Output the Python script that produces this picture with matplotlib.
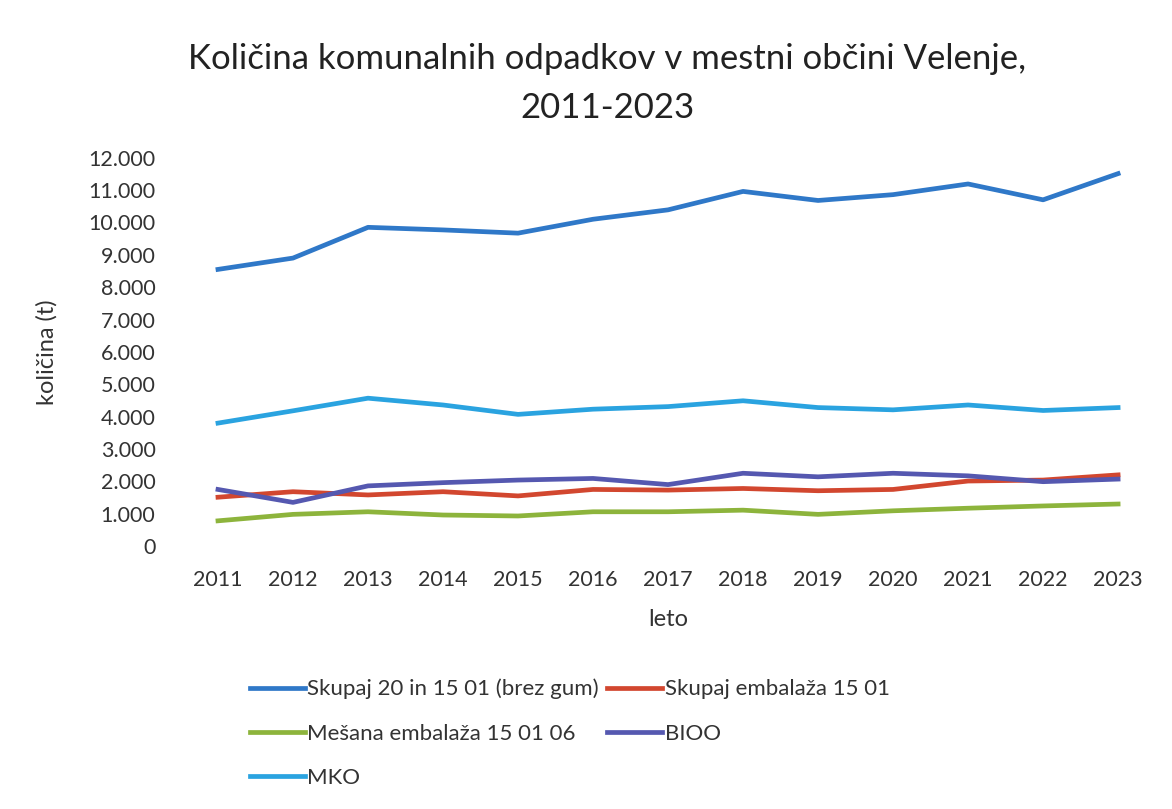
import matplotlib.pyplot as plt
from matplotlib.ticker import FuncFormatter

plt.rcParams['font.family'] = ['Lato', 'DejaVu Sans']

years = ["2011", "2012", "2013", "2014", "2015", "2016", "2017",
         "2018", "2019", "2020", "2021", "2022", "2023"]

skupaj = [8550, 8900, 9850, 9770, 9670, 10100, 10390,
          10960, 10680, 10860, 11190, 10700, 11510]
embalaza = [1510, 1680, 1580, 1680, 1550, 1750, 1730,
            1780, 1710, 1750, 2010, 2040, 2200]
mesana = [780, 980, 1060, 960, 930, 1060, 1060,
          1110, 980, 1090, 1170, 1240, 1300]
bioo = [1750, 1350, 1860, 1960, 2040, 2090, 1900,
        2250, 2140, 2250, 2170, 1990, 2070]
mko = [3800, 4180, 4570, 4360, 4070, 4230, 4310,
       4490, 4280, 4210, 4360, 4190, 4280]

fig = plt.figure(figsize=(11.72, 8.09), dpi=100)
ax = fig.add_axes([0.154, 0.325, 0.832, 0.480])

x = range(len(years))
l1, = ax.plot(x, skupaj, color='#2F78C8', lw=3.4, label="Skupaj 20 in 15 01 (brez gum)")
l2, = ax.plot(x, embalaza, color='#D2472F', lw=3.4, label="Skupaj embalaža 15 01")
l3, = ax.plot(x, mesana, color='#8DB43C', lw=3.4, label="Mešana embalaža 15 01 06")
l4, = ax.plot(x, bioo, color='#5558B0', lw=3.4, label="BIOO")
l5, = ax.plot(x, mko, color='#2AA3E0', lw=3.4, label="MKO")

ax.set_xlim(-0.5, len(years) - 0.5)
ax.set_ylim(0, 12000)
ax.set_yticks(range(0, 12001, 1000))
ax.yaxis.set_major_formatter(FuncFormatter(lambda v, p: f"{int(v):,}".replace(",", ".")))
ax.set_xticks(list(x))
ax.set_xticklabels(years)
ax.tick_params(length=0, labelsize=15.5, colors='#333333')
ax.tick_params(axis='x', pad=17)
ax.tick_params(axis='y', pad=18)
for s in ax.spines.values():
    s.set_visible(False)

ax.set_xlabel("leto", fontsize=17, color='#333333', labelpad=14)
ax.set_ylabel("količina (t)", fontsize=17, color='#333333', labelpad=22)

fig.text(0.518, 0.897, "Količina komunalnih odpadkov v mestni občini Velenje,\n2011-2023",
         ha='center', va='center', fontsize=25, color='#222222', linespacing=1.65)

fig.legend([l1, l3, l5, l2, l4],
           [l1.get_label(), l3.get_label(), l5.get_label(), l2.get_label(), l4.get_label()],
           ncol=2, loc='upper left', bbox_to_anchor=(0.213, 0.161), frameon=False,
           borderaxespad=0, borderpad=0,
           fontsize=16, handlelength=2.5, handletextpad=0.1, columnspacing=0.35,
           labelspacing=1.1, labelcolor='#333333')

fig.savefig("out.png", dpi=100)
